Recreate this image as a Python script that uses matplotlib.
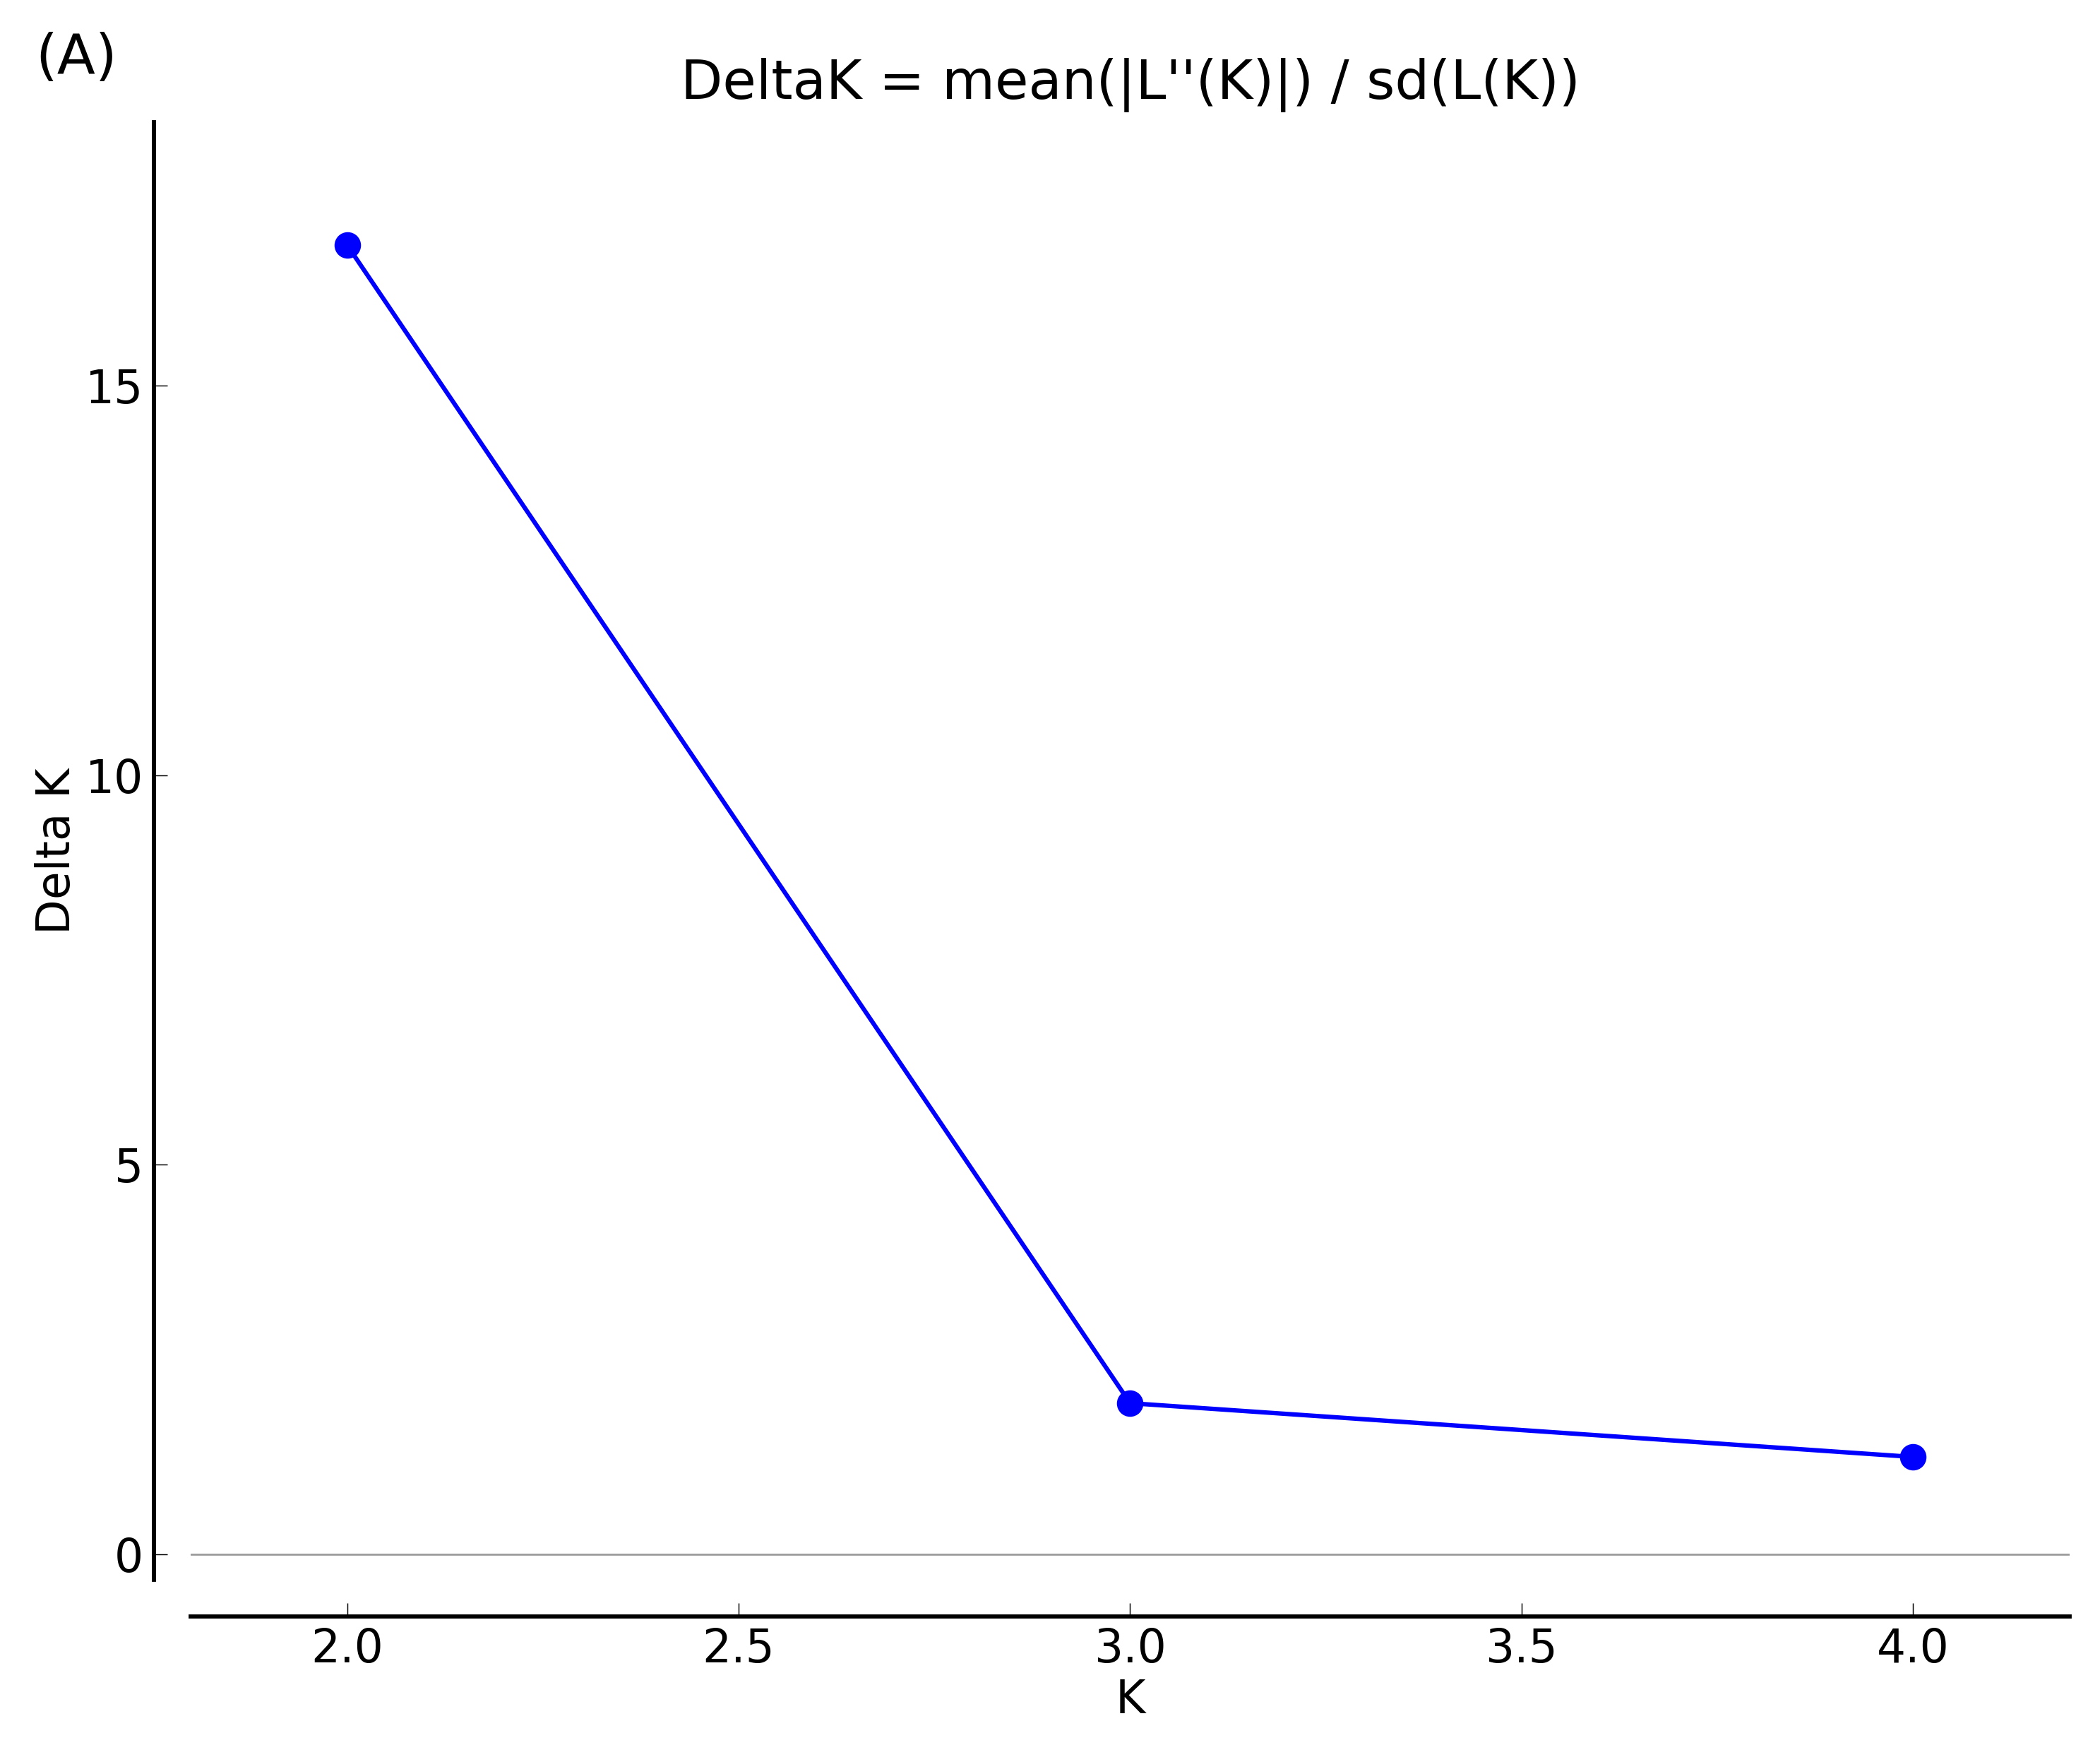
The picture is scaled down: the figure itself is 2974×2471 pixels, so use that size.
import matplotlib
matplotlib.use("Agg")
import matplotlib.pyplot as plt

# Data
k_values = [2, 3, 4]
delta_k = [16.80, 1.94, 1.25]

TITLE = "DeltaK = mean(|L''(K)|) / sd(L(K))"
TICK_SIZE = 15.5
DPI = 300

fig = plt.figure(figsize=(2974 / DPI, 2471 / DPI), dpi=DPI)
ax = fig.add_axes([0.0908, 0.0947, 0.8947, 0.8353])

ax.axhline(0, color="#999999", linewidth=0.65, zorder=1)
ax.plot(k_values, delta_k, color="#0000ff", linewidth=1.5,
        marker="o", markersize=8, zorder=3)

ax.set_xlim(1.8, 4.2)
ax.set_ylim(-0.326, 18.38)
ax.set_xticks([2.0, 2.5, 3.0, 3.5, 4.0])
ax.set_yticks([0, 5, 10, 15])

# detached spines, top/right hidden
for side in ("top", "right"):
    ax.spines[side].set_visible(False)
for side in ("left", "bottom"):
    ax.spines[side].set_position(("outward", 12.5))
    ax.spines[side].set_linewidth(1.4)

ax.tick_params(direction="in", length=4.6, width=0.35, labelsize=TICK_SIZE, pad=3.5)

ax.set_xlabel("K", fontsize=15.5, labelpad=2)
ax.set_ylabel("Delta K", fontsize=15.5, labelpad=2)
ax.set_title(TITLE, fontsize=18.5, pad=8)

fig.text(0.017, 0.9575, "(A)", fontsize=19, va="baseline", ha="left")

fig.savefig("out.png", dpi=DPI)
